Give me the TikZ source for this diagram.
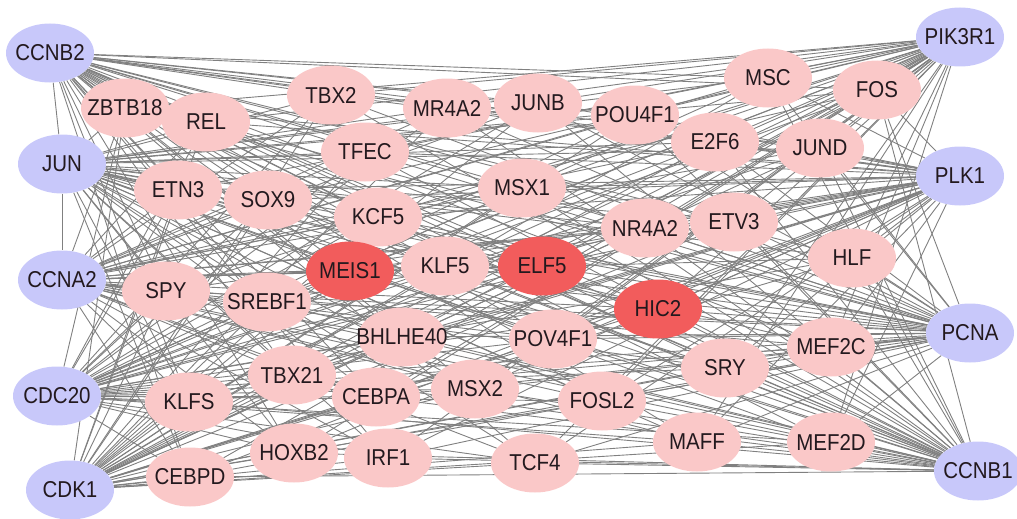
\documentclass[tikz,border=0pt]{standalone}
\usepackage{fontspec}
\setmainfont{Liberation Sans}
\usetikzlibrary{shapes.geometric,backgrounds}
\definecolor{hubc}{RGB}{200,200,250}
\definecolor{tfc}{RGB}{250,200,200}
\definecolor{keyc}{RGB}{242,92,92}
\definecolor{edgec}{RGB}{128,128,128}
\definecolor{txtc}{RGB}{35,25,30}
\begin{document}
\begin{tikzpicture}[x=1pt,y=-1pt,
  gene/.style={ellipse,draw=none,minimum width=88pt,minimum height=59pt,inner sep=0pt,
    font=\fontsize{20.5}{22}\selectfont,text=txtc},
  hub/.style={gene,fill=hubc},
  tf/.style={gene,fill=tfc},
  key/.style={gene,fill=keyc},
  link/.style={draw=edgec,line width=0.9pt}]
\useasboundingbox (0,0) rectangle (1017,519);
% hub genes
\foreach \n/\x/\y in {CCNB2/50/53,JUN/62/164,CCNA2/62/280,CDC20/57/396,CDK1/70/490,
  PIK3R1/960/37,PLK1/960/176,PCNA/970/333,CCNB1/978/471}
  \node[hub] (\n) at (\x,\y) {\makebox[0pt]{\scalebox{1}[1.12]{\n}}};
% transcription factors
\foreach \n/\x/\y/\s in {ZBTB18/125/108/tf,REL/206/122/tf,TBX2/331/95/tf,MR4A2/447/108/tf,
  JUNB/538/103/tf,POU4F1/635/115/tf,MSC/768/78/tf,FOS/877/90/tf,TFEC/365/152/tf,
  E2F6/715/142/tf,JUND/820/148/tf,ETN3/178/190/tf,SOX9/268/200/tf,MSX1/522/188/tf,
  KCF5/378/217/tf,NR4A2/645/228/tf,ETV3/734/222/tf,MEIS1/350/271/key,KLF5/445/266/tf,
  ELF5/542/266/key,HLF/852/258/tf,SPY/166/291/tf,SREBF1/267/302/tf,HIC2/658/309/key,
  BHLHE40/402/337/tf,POV4F1/553/339/tf,MEF2C/831/347/tf,SRY/725/368/tf,TBX21/292/375/tf,
  CEBPA/376/397/tf,MSX2/475/389/tf,FOSL2/602/401/tf,KLFS/189/402/tf,MAFF/697/442/tf,
  MEF2D/831/442/tf,HOXB2/294/453/tf,CEBPD/190/477/tf,IRF1/388/458/tf,TCF4/535/463/tf}
  \node[\s] (\n) at (\x,\y) {\makebox[0pt]{\scalebox{1}[1.12]{\n}}};
\begin{scope}[on background layer]
\foreach \h in {CCNB2,JUN,CCNA2,CDC20,CDK1,PIK3R1,PLK1,PCNA,CCNB1}
  \foreach \t in {ZBTB18,REL,TBX2,MR4A2,JUNB,POU4F1,MSC,FOS,TFEC,E2F6,JUND,ETN3,SOX9,MSX1,
    KCF5,NR4A2,ETV3,MEIS1,KLF5,ELF5,HLF,SPY,SREBF1,HIC2,BHLHE40,POV4F1,MEF2C,SRY,TBX21,
    CEBPA,MSX2,FOSL2,KLFS,MAFF,MEF2D,HOXB2,CEBPD,IRF1,TCF4}
    \draw[link] (\h) -- (\t);
\draw[link] (CCNB2) -- (JUN);
\draw[link] (JUN) -- (CCNA2);
\end{scope}
\end{tikzpicture}
\end{document}
